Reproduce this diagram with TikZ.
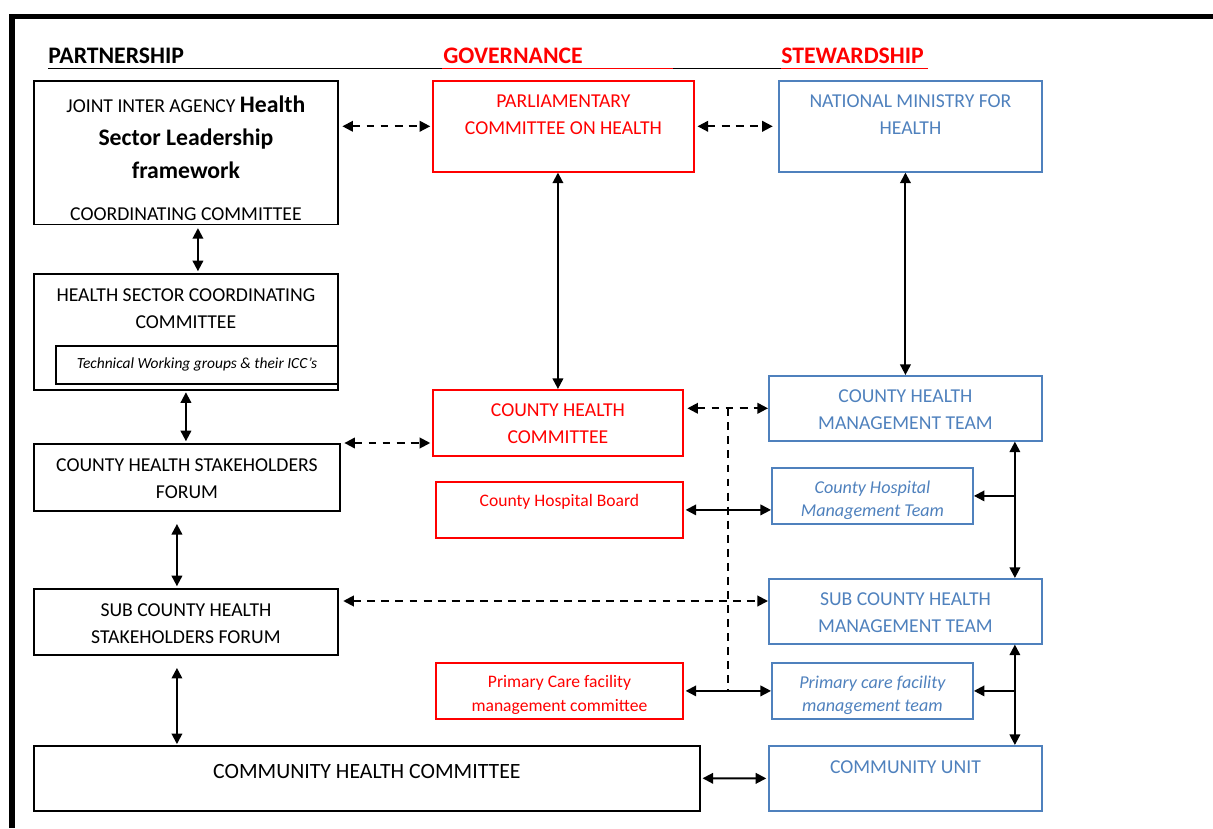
\documentclass[tikz,border=0pt]{standalone}
\usepackage{fontspec}
\setmainfont{Carlito}
\definecolor{govred}{RGB}{255,0,0}
\definecolor{stewblue}{RGB}{79,129,189}
\usetikzlibrary{arrows.meta}
\newcommand{\leadfont}{\fontsize{13.5}{18.7}\selectfont\bfseries}
\tikzset{
  partbox/.style={draw, line width=1.1pt, align=center, anchor=north west, inner ysep=0pt, inner xsep=2pt, font=\fontsize{11.2}{15.3}\selectfont},
  govbox/.style={partbox, draw=govred, text=govred},
  stewbox/.style={partbox, draw=stewblue, text=stewblue},
  smallred/.style={govbox, font=\fontsize{10}{13.6}\selectfont},
  smallblue/.style={stewbox, font=\fontsize{10.3}{13}\selectfont\itshape},
  colhead/.style={anchor=base west, inner sep=0pt, font=\fontsize{13.5}{16}\selectfont\bfseries},
  link/.style={<->, >={Triangle[length=6pt,width=6pt]}, line width=1.1pt},
  dashlink/.style={link, dash pattern=on 4.5pt off 3.5pt},
}
\begin{document}
\begin{tikzpicture}[x=0.02cm, y=-0.02cm]
  \useasboundingbox (0,0) rectangle (1213,828);
  \draw[line width=3pt] (12,828) -- (12,16.5) -- (1213,16.5);

  % column heads
  \node[colhead] (parthead) at (48,64) {PARTNERSHIP};
  \node[colhead, text=govred] (govhead) at (443,64) {GOVERNANCE};
  \node[colhead, text=govred] (stewhead) at (781,64) {STEWARDSHIP};
  \draw[line width=0.9pt] (48,68.5) -- (928,68.5);
  \draw[govred, line width=0.9pt] (442,68.5) -- (673,68.5) (781,68.5) -- (928,68.5);

  % partnership
  \node[partbox, minimum width=6.08cm, text height=79.4pt, text depth=2.3pt] (jia) at (33,80)
    {JOINT INTER AGENCY {\leadfont Health}\\[3.4pt]{\leadfont Sector Leadership}\\[3.4pt]{\leadfont framework}\\[8.5pt]COORDINATING COMMITTEE};
  \node[partbox, minimum width=6.08cm, text height=31.2pt, text depth=34.6pt] (hscc) at (33,273)
    {HEALTH SECTOR COORDINATING\\COMMITTEE};
  \node[partbox, minimum width=5.64cm, text height=13pt, text depth=8.5pt, font=\fontsize{8.8}{10}\selectfont\itshape] (twg) at (55,345)
    {Technical Working groups \& their ICC's};
  \node[partbox, minimum width=6.12cm, text height=31.2pt, text depth=6.8pt] (chsf) at (33,443)
    {COUNTY HEALTH STAKEHOLDERS\\FORUM};
  \node[partbox, minimum width=6.08cm, text height=31.2pt, text depth=6.2pt] (schsf) at (33,588)
    {SUB COUNTY HEALTH\\STAKEHOLDERS FORUM};
  \node[partbox, minimum width=13.32cm, text height=18.7pt, text depth=18.1pt, font=\fontsize{12.4}{15.3}\selectfont] (chc) at (33,745)
    {COMMUNITY HEALTH COMMITTEE};

  % governance
  \node[govbox, minimum width=5.22cm, text height=30.6pt, text depth=21pt] (pch) at (432,80)
    {PARLIAMENTARY\\COMMITTEE ON HEALTH};
  \node[govbox, minimum width=5cm, text height=30.6pt, text depth=6.8pt] (chcom) at (432,389)
    {COUNTY HEALTH\\COMMITTEE};
  \node[smallred, minimum width=4.94cm, text height=14.2pt, text depth=17.6pt] (chb) at (435,481)
    {County Hospital Board};
  \node[smallred, minimum width=4.94cm, text height=27.8pt, text depth=4pt] (pcfmc) at (435,662)
    {Primary Care facility\\management committee};

  % stewardship
  \node[stewbox, minimum width=5.26cm, text height=30.6pt, text depth=21pt] (nmh) at (778,80)
    {NATIONAL MINISTRY FOR\\HEALTH};
  \node[stewbox, minimum width=5.46cm, text height=30.6pt, text depth=6.2pt] (chmt) at (768,375)
    {COUNTY HEALTH\\MANAGEMENT TEAM};
  \node[smallblue, minimum width=4.02cm, text height=27.8pt, text depth=4pt] (chmtm) at (771,467)
    {County Hospital\\Management Team};
  \node[stewbox, minimum width=5.46cm, text height=30.6pt, text depth=6.2pt] (schmt) at (768,578)
    {SUB COUNTY HEALTH\\MANAGEMENT TEAM};
  \node[smallblue, minimum width=4.02cm, text height=27.8pt, text depth=4pt] (pcfmt) at (771,662)
    {Primary care facility\\management team};
  \node[stewbox, minimum width=5.46cm, text height=15.9pt, text depth=21pt] (cu) at (768,745)
    {COMMUNITY UNIT};

  % links across the columns
  \draw[dashlink, shorten <=2pt, shorten >=1pt] (jia.east |- pch.west) -- (pch.west);
  \draw[dashlink, shorten <=1.5pt, shorten >=3pt] (pch.east) -- (nmh.west);
  \draw[dashlink, shorten <=2pt, shorten >=1pt] (chsf.north east) -- (chsf.north east -| chcom.west);
  \draw[dashlink, shorten <=2pt] (chcom.east |- chmt.west) -- (chmt.west);
  \draw[dashlink, shorten <=2.5pt] ([yshift=-0.26cm]schsf.north east) -- ([yshift=-0.26cm]schsf.north east -| schmt.west);
  \draw[link, shorten <=1pt] (chb.east) -- (chb.east -| chmtm.west);
  \draw[link, shorten <=1pt] (pcfmc.east) -- (pcfmc.east -| pcfmt.west);
  \draw[link, shorten <=1pt, shorten >=1pt] (chc.east) -- (cu.west);
  \coordinate (dtop) at ([xshift=0.88cm]chcom.east |- chmt.west);
  \coordinate (dbot) at (dtop |- pcfmc.east);
  \draw[dash pattern=on 4.5pt off 3.5pt, line width=1.1pt] (dtop) -- (dbot);

  % links down the columns
  \draw[link, shorten <=1.5pt, shorten >=1pt] ([xshift=0.24cm]jia.south) -- ([xshift=0.24cm]jia.south |- hscc.north);
  \draw[link, shorten <=1pt, shorten >=1pt] (hscc.south) -- (hscc.south |- chsf.north);
  \draw[link, shorten <=7pt, shorten >=1pt] ([xshift=-0.2cm]chsf.south) -- ([xshift=-0.2cm]chsf.south |- schsf.north);
  \draw[link, shorten <=7pt, shorten >=0.5pt] ([xshift=-0.2cm]chsf.south |- schsf.south) -- ([xshift=-0.2cm]chsf.south |- chc.north);
  \draw[link] (pch.south -| chcom.north) -- (chcom.north);
  \draw[link] (nmh.south -| chmt.north) -- (chmt.north);
  \coordinate (ctop) at ([xshift=-0.56cm]chmt.south east);
  \coordinate (cmid) at (ctop |- schmt.south);
  \draw[link] (ctop) -- (ctop |- schmt.north);
  \draw[link] (cmid) -- (cmid |- cu.north);
  \draw[link, <-] (chmtm.east) -- (chmtm.east -| ctop);
  \draw[link, <-] (pcfmt.east) -- (pcfmt.east -| ctop);
\end{tikzpicture}
\end{document}
